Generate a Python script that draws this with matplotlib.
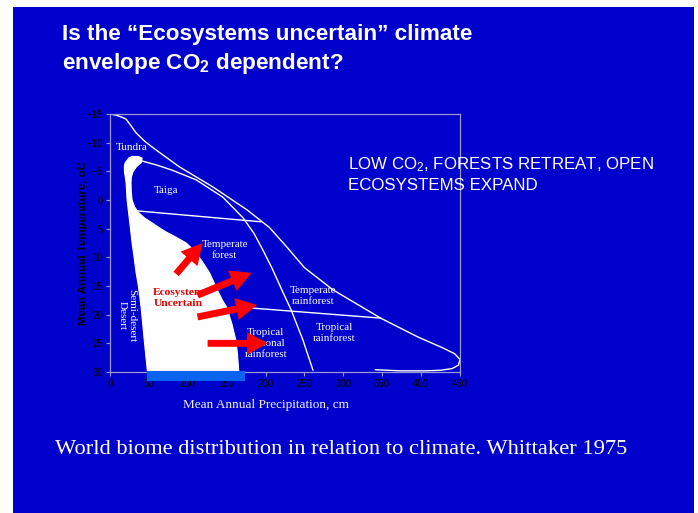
import matplotlib
matplotlib.use("Agg")
import matplotlib.pyplot as plt
from matplotlib.patches import Rectangle, Polygon, FancyArrowPatch, ArrowStyle

plt.rcParams["mathtext.fontset"] = "custom"
plt.rcParams["mathtext.rm"] = "Liberation Sans"
plt.rcParams["mathtext.bf"] = "Liberation Sans:bold"
plt.rcParams["mathtext.default"] = "rm"

# ---- axis ticks ----
x_ticks = [0, 50, 100, 150, 200, 250, 300, 350, 400, 450]
y_ticks = [-15, -10, -5, 0, 5, 10, 15, 20, 25, 30]

# ---- biome boundary lines (precipitation cm, temperature C) ----
outer_p = [0, 8, 16, 20.7, 24.6, 33.6, 45, 59.5, 89, 132, 176, 205, 228, 250, 287,
           348, 396, 428, 443, 450, 448, 440, 425, 405, 374, 341]
outer_t = [-15, -14.8, -14.4, -14.1, -13.4, -11.7, -10.2, -8.7, -5.8, -2.3, 1.7,
           4.8, 8.3, 11.8, 15.7, 20.6, 23.9, 25.8, 26.8, 27.8, 28.8, 29.4, 29.7,
           29.8, 29.8, 29.6]

taiga_p = [41.4, 60, 80, 111, 145, 171, 185, 196.5, 208, 221, 233, 248, 261]
taiga_t = [-6.8, -6.1, -5.2, -3.5, -0.5, 3.1, 5.8, 8.7, 11.8, 15.7, 19.2, 24.4, 29.7]

cold_temperate_p = [35, 194]
cold_temperate_t = [1.9, 3.8]

warm_temperate_p = [159, 348]
warm_temperate_t = [18.6, 20.6]

# ---- "ecosystems uncertain" envelope outline ----
env_p = [20.7, 24, 28.4, 36, 41.4, 40, 34, 29.5, 27.5, 27, 27.3, 28.4, 31.5, 37.5,
         45, 54.3, 63, 72.4, 81, 89, 98, 108, 118, 128, 138, 145, 150, 156.5,
         161.7, 164, 165.5,
         48, 44, 40, 36.5, 33.6, 30.5, 28.4, 27, 24.6, 22, 20.7, 18.5, 18.5, 19.5]
env_t = [-6.7, -7.3, -7.6, -7.6, -7.3, -6.5, -5.8, -4.9, -4, -3, -1.5, 0, 1.2, 2.3,
         3.2, 4, 4.8, 5.6, 6.2, 6.8, 7.5, 8.8, 10.6, 12.7, 15.7, 17.6, 18.7, 21.5,
         24.4, 27, 29.8,
         29.8, 24.4, 18.7, 15, 12.7, 9.5, 7.5, 5.8, 3, 0, -3, -5, -6, -6.5]

# ---- present-day shift arrows (start -> end) ----
arrow_start_p = [85, 112.5, 112.5, 125.5]
arrow_start_t = [12.9, 16.6, 20.4, 25.0]
arrow_end_p = [119, 182, 189, 203]
arrow_end_t = [7.5, 12.7, 18.3, 25.0]

# ---- precipitation band of the envelope base ----
band_p = [48, 173]
band_t = [29.8, 31.6]

# ---- biome labels ----
biome_names = ["Tundra", "Taiga", "Temperate\nforest", "Temperate\nrainforest",
               "Tropical\nrainforest", "Tropical\nseasonal\nrainforest"]
biome_p = [28.4, 72, 147.5, 261, 288, 200.5]
biome_t = [-9.2, -1.7, 8.7, 16.7, 23.2, 25.0]

BLUE = "#0000cc"
FRAME = "#9a9ad0"
DARK = "#00000c"

fig = plt.figure(figsize=(6.98, 5.13), dpi=100)
fig.patch.set_facecolor("white")

# slide background panel
bg = fig.add_axes([0, 0, 1, 1], zorder=-5)
bg.set_xlim(0, 698)
bg.set_ylim(513, 0)
bg.axis("off")
bg.add_patch(Rectangle((13, 7), 694 - 13, 513 - 7, facecolor=BLUE,
                       edgecolor="none"))

ax = fig.add_axes([110 / 698, 1 - 372 / 513, 350 / 698, 258 / 513], zorder=1)
ax.set_facecolor("none")
ax.set_xlim(0, 450)
ax.set_ylim(30, -15)
ax.set_xticks(x_ticks)
ax.set_yticks(y_ticks)
ax.tick_params(axis="both", colors=FRAME, labelcolor=DARK, labelsize=7,
               length=3, width=0.8, pad=2)
for lab in ax.get_xticklabels() + ax.get_yticklabels():
    lab.set_fontfamily("Liberation Sans")
for s in ax.spines.values():
    s.set_color(FRAME)
    s.set_linewidth(0.9)

ax.set_ylabel("Mean Annual Temperature, oC", fontfamily="Liberation Sans",
              fontweight="bold", color=DARK, fontsize=8.2)
ax.yaxis.set_label_coords(-0.064, 0.5)
fig.text(266 / 698, 1 - 405 / 513, "Mean Annual Precipitation, cm",
         fontfamily="Liberation Serif", color="#f0f0ff", fontsize=9.5,
         ha="center", va="center")

line_kw = dict(color="white", lw=1.0, zorder=2, solid_capstyle="round")
ax.plot(outer_p, outer_t, **line_kw)
ax.plot(taiga_p, taiga_t, **line_kw)
ax.plot(cold_temperate_p, cold_temperate_t, **line_kw)
ax.plot(warm_temperate_p, warm_temperate_t, **line_kw)

ax.add_patch(Polygon(list(zip(env_p, env_t)), closed=True, facecolor="white",
                     edgecolor="white", lw=0.8, zorder=3))
ax.add_patch(Rectangle((band_p[0], band_t[0]), band_p[1] - band_p[0],
                       band_t[1] - band_t[0], facecolor="#0a64f0",
                       edgecolor="none", zorder=4, clip_on=False))

for name, p, t in zip(biome_names, biome_p, biome_t):
    ax.text(p, t, name, fontfamily="Liberation Serif", fontsize=8, color="white",
            ha="center", va="center", multialignment="center",
            linespacing=1.3, zorder=5)

ax.text(22, 20.1, "Semi-desert\nDesert", fontfamily="Liberation Serif",
        fontsize=8, color="white", rotation=270, ha="center", va="center",
        multialignment="center", linespacing=1.1, zorder=5)

ax.text(55.6, 17.1, "Ecosystems\nUncertain", fontfamily="Liberation Serif",
        fontsize=8.2, fontweight="bold", color="#e00000", ha="left",
        va="center", linespacing=1.3, zorder=5)

astyle = ArrowStyle.Simple(head_length=15, head_width=16, tail_width=5)
for p0, t0, p1, t1 in zip(arrow_start_p, arrow_start_t, arrow_end_p, arrow_end_t):
    ax.add_patch(FancyArrowPatch((p0, t0), (p1, t1), arrowstyle=astyle,
                                 mutation_scale=1, color="#ff0000", lw=0,
                                 shrinkA=0, shrinkB=0, zorder=6))

fig.text(62 / 698, 1 - 35 / 513, "Is the \u201cEcosystems uncertain\u201d climate",
         fontfamily="Liberation Sans", fontweight="bold", fontsize=16.2,
         color="white", ha="left", va="center")
fig.text(62 / 698, 1 - 64 / 513, r"envelope CO$_\mathbf{2}$ dependent?",
         fontfamily="Liberation Sans", fontweight="bold", fontsize=16.2,
         color="white", ha="left", va="center")

fig.text(348 / 698, 1 - 165 / 513, r"LOW CO$_2$, FORESTS RETREAT, OPEN",
         fontfamily="Liberation Sans", fontsize=12.2, color="white",
         ha="left", va="center")
fig.text(348 / 698, 1 - 186 / 513, "ECOSYSTEMS EXPAND",
         fontfamily="Liberation Sans", fontsize=12.2, color="white",
         ha="left", va="center")

fig.text(55 / 698, 1 - 449 / 513,
         "World biome distribution in relation to climate. Whittaker 1975",
         fontfamily="Liberation Serif", fontsize=16.2, color="white",
         ha="left", va="center")

fig.savefig("out.png", dpi=100, facecolor=fig.get_facecolor())
